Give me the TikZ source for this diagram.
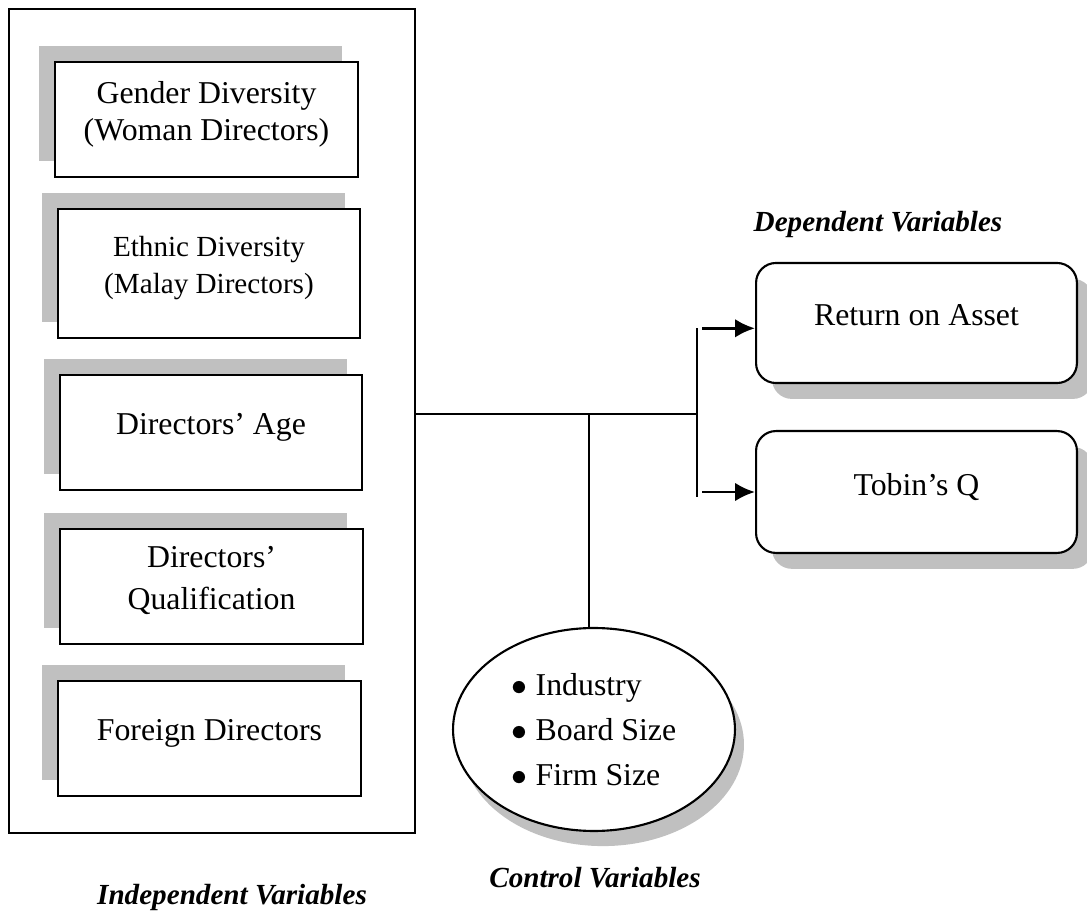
\documentclass[tikz,border=0pt]{standalone}
\usepackage{fontspec}
\setmainfont{Liberation Serif}
\usepackage{tikz}
\usetikzlibrary{shapes.geometric,positioning,shadows,arrows.meta}
\definecolor{shade}{RGB}{192,192,192}
\tikzstyle{arrow} = [line width=1.1pt,->,>={Latex[length=7.5pt,width=7pt]}]
\tikzset{
 iv/.style
  = {rectangle, draw, fill=white, line width=0.8pt, minimum width=114.3pt,
     minimum height=43.4pt, align=center, text depth=6.5pt,
     general shadow={fill=shade, shadow xshift=-6pt, shadow yshift=6pt}},
 dv/.style
  = {rectangle, draw, fill=white, rounded corners=7.5pt, line width=0.8pt,
     minimum width=121.1pt, minimum height=45.3pt, text depth=6pt,
     font=\fontsize{12}{14}\selectfont,
     general shadow={fill=shade, shadow xshift=6pt, shadow yshift=-6pt}},
 cv/.style
  = {ellipse, draw, fill=white, line width=0.8pt, minimum width=106.4pt,
     minimum height=76.6pt, align=left, font=\fontsize{12}{17}\selectfont,
     general shadow={fill=shade, shadow xshift=3.4pt, shadow yshift=-5.7pt}},
 frame/.style
  = {rectangle, draw, line width=0.8pt, minimum width=153.2pt, minimum height=311pt},
 head/.style
  = {font=\fontsize{11}{13}\selectfont\bfseries\itshape},
 link/.style
  = {draw, line width=0.8pt},
}
\newcommand{\itembul}{$\bullet$\ }

\begin{document}
\begin{tikzpicture}[x=0.3774pt, y=-0.3774pt]
\useasboundingbox (0,0) rectangle (1087,914);

% Independent variables
\node[frame] (indep) at (212,421) {};
\node[iv, font=\fontsize{12}{13.8}\selectfont] (gender) at (206.5,119.5)
  {Gender Diversity\\(Woman Directors)};
\node[iv, minimum height=48.7pt, font=\fontsize{11}{14.3}\selectfont] (ethnic) at (209,273.5)
  {Ethnic Diversity\\(Malay Directors)};
\node[iv, font=\fontsize{12}{14}\selectfont] (age) at (211,432.5) {Directors’ Age};
\node[iv, font=\fontsize{12}{15.8}\selectfont] (qual) at (211.5,586.5)
  {Directors’\\Qualification};
\node[iv, font=\fontsize{12}{14}\selectfont] (foreign) at (209.5,738.5) {Foreign Directors};
\node[head] (indeplabel) at (232,897) {Independent Variables};

% Dependent variables
\node[head] (deplabel) at (878,224) {Dependent Variables};
\node[dv] (roa) at (916.5,323) {Return on Asset};
\node[dv, minimum height=46pt] (tobin) at (916.5,492) {Tobin’s Q};

% Control variables
\node[cv] (control) at (594,729.5)
  {\itembul Industry\\\itembul Board Size\\\itembul Firm Size};
\node[head] (ctrllabel) at (595,878) {Control Variables};

% Connectors
\coordinate (hub) at (697,414);
\coordinate (tee) at (589,414);
\path[link] (indep.east |- hub) -- (hub);
\path[link] (tee) -- (tee |- control.north);
\path[link] ([yshift=-2pt]hub |- roa.west) -- ([yshift=-2pt]hub |- tobin.west);
\draw[arrow] ([xshift=2pt,yshift=-2pt]hub |- roa.west) -- ([yshift=-2pt]roa.west);
\draw[arrow] ([xshift=2pt]hub |- tobin.west) -- (tobin.west);

\end{tikzpicture}
\end{document}
